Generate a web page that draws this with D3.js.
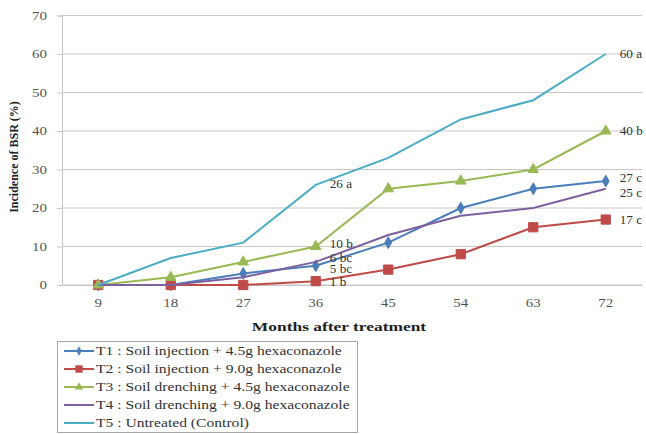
<!DOCTYPE html>
<html><head><meta charset="utf-8">
<script src="https://cdn.jsdelivr.net/npm/d3@7"></script>
<style>body{margin:0;background:#fff}svg{display:block}text{font-family:"Liberation Serif","Times New Roman",serif}</style>
</head><body><svg id="c" width="646" height="434"></svg>
<script>
const months = ["9","18","27","36","45","54","63","72"];
const t1 = [0,0,3,5,11,20,25,27];
const t2 = [0,0,0,1,4,8,15,17];
const t3 = [0,2,6,10,25,27,30,40];
const t4 = [0,0,2,6,13,18,20,25];
const t5 = [0,7,11,26,33,43,48,60];
const seriesNames = ["T1 : Soil injection + 4.5g hexaconazole","T2 : Soil injection + 9.0g hexaconazole","T3 : Soil drenching + 4.5g hexaconazole","T4 : Soil drenching + 9.0g hexaconazole","T5 : Untreated (Control)"];
const yTicks = [0,10,20,30,40,50,60,70];
// data labels: [series index, category, text, vertical nudge]
const labels = [[4,"36","26 a",3],[2,"36","10 b",1],[3,"36","6 bc",0],[0,"36","5 bc",7],[1,"36","1 b",5],
  [4,"72","60 a",4],[2,"72","40 b",4],[0,"72","27 c",1],[3,"72","25 c",8],[1,"72","17 c",4]];

const colors = ["#4A7EBB","#BE4B48","#98B954","#7D60A0","#4BACC6"];
const markers = ["diamond","square","triangle",null,null];
const data = [t1,t2,t3,t4,t5];

const svg = d3.select("#c");
const L=62, R=642, T=15.5, B=285;
const x = d3.scaleBand().domain(months).range([L,R]);
const y = d3.scaleLinear().domain([0,70]).range([B,T]);
const cx = m => x(m)+x.bandwidth()/2;
const FONT = "Liberation Serif";
function stretch(sel,f){ sel.each(function(){ const w=this.getComputedTextLength(); d3.select(this).attr("textLength",w*f).attr("lengthAdjust","spacingAndGlyphs"); }); }

// gridlines
svg.append("g").selectAll("line").data(yTicks).join("line")
  .attr("x1",L).attr("x2",R).attr("y1",d=>y(d)).attr("y2",d=>y(d))
  .attr("stroke","#c6c6c6").attr("stroke-width",1.2);
// y axis
const ya = svg.append("g").attr("transform",`translate(${L},0)`)
  .call(d3.axisLeft(y).tickValues(yTicks).tickSize(5).tickPadding(10));
ya.attr("font-family",FONT);
ya.select(".domain").attr("stroke","#c6c6c6");
ya.selectAll(".tick line").attr("stroke","#c6c6c6");
ya.selectAll("text").attr("font-size",11.5).attr("fill","#555").attr("font-family",FONT).call(stretch,1.3);
// x axis
const xa = svg.append("g").attr("transform",`translate(0,${B})`)
  .call(d3.axisBottom(x).tickSize(0).tickPadding(14));
xa.attr("font-family",FONT);
xa.select(".domain").attr("stroke","#c6c6c6");
xa.selectAll("text").attr("font-size",11.5).attr("fill","#555").attr("font-family",FONT).call(stretch,1.3);

svg.append("text").attr("x",339).attr("y",331).attr("text-anchor","middle").attr("font-family",FONT)
  .attr("font-size",12).attr("font-weight","bold").attr("fill","#222").text("Months after treatment").call(stretch,1.45);
svg.append("text").attr("transform","translate(18,157) rotate(-90)").attr("text-anchor","middle").attr("font-family",FONT)
  .attr("font-size",12).attr("font-weight","bold").attr("fill","#222").text("Incidence of BSR (%)");

function markerPath(type){
  if(type==="diamond") return d3.symbol(d3.symbolDiamond,40)();
  if(type==="square") return d3.symbol(d3.symbolSquare,85)();
  if(type==="triangle") return d3.symbol(d3.symbolTriangle,48)();
  return null;
}
const line = d3.line().x((d,i)=>cx(months[i])).y(d=>y(d));
data.forEach((vals,si)=>{
  const g = svg.append("g");
  g.append("path").attr("d",line(vals)).attr("fill","none").attr("stroke",colors[si]).attr("stroke-width",2);
  if(markers[si]){
    g.selectAll("path.m").data(vals).join("path").attr("class","m")
      .attr("d",markerPath(markers[si]))
      .attr("transform",(d,i)=>`translate(${cx(months[i])},${y(d)})`)
      .attr("fill",colors[si]).attr("stroke",colors[si]);
  }
});
// data labels
svg.append("g").selectAll("text").data(labels).join("text")
  .attr("x",d=>cx(d[1])+14).attr("y",d=>y(data[d[0]][months.indexOf(d[1])])+d[3])
  .attr("font-family",FONT).attr("font-size",11.5).attr("fill","#333").text(d=>d[2]).call(stretch,1.15);

// legend
const lg = svg.append("g");
lg.append("rect").attr("x",57.5).attr("y",341.5).attr("width",300).attr("height",91)
  .attr("fill","#fff").attr("stroke","#a8a8a8");
seriesNames.forEach((n,si)=>{
  const yy = 351 + si*18;
  lg.append("line").attr("x1",64).attr("x2",94).attr("y1",yy).attr("y2",yy).attr("stroke",colors[si]).attr("stroke-width",2);
  if(markers[si]) lg.append("path").attr("d",markerPath(markers[si])).attr("transform",`translate(79,${yy}) scale(0.8)`).attr("fill",colors[si]);
  lg.append("text").attr("x",96).attr("y",yy+4).attr("font-family",FONT).attr("font-size",12).attr("fill","#333").text(n).call(stretch,1.3);
});
</script></body></html>
